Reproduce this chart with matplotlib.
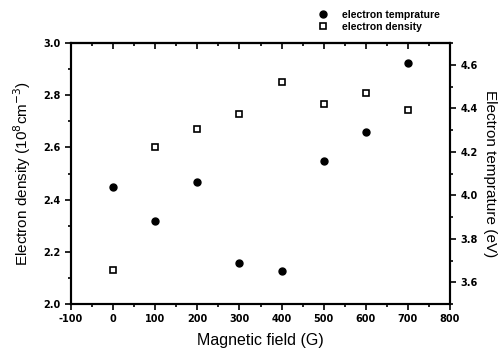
import numpy as np
import matplotlib
matplotlib.use('Agg')
import matplotlib.pyplot as plt
from matplotlib.ticker import MultipleLocator

plt.rcParams['font.family'] = ['Liberation Sans', 'DejaVu Sans']

## data
field = [0, 100, 200, 300, 400, 500, 600, 700]
density = [2.13, 2.60, 2.67, 2.73, 2.85, 2.765, 2.81, 2.745]
temperature = [4.04, 3.88, 4.06, 3.69, 3.65, 4.16, 4.29, 4.61]

fig = plt.figure(figsize=(4.99, 3.56), dpi=100)
ax = fig.add_axes([0.1423, 0.146, 0.7595, 0.733])
ax2 = ax.twinx()

h2, = ax.plot(field, density, 's', mfc='white', mec='black', mew=1.2, ms=4.5,
              label='electron density', zorder=3)
h1, = ax2.plot(field, temperature, 'o', color='black', ms=5,
               label='electron temprature', zorder=3)

ax.set_xlim(-100, 800)
ax.set_ylim(2.0, 3.0)
ax2.set_ylim(3.5, 4.7)

ax.xaxis.set_major_locator(MultipleLocator(100))
ax.xaxis.set_minor_locator(MultipleLocator(50))
ax.yaxis.set_major_locator(MultipleLocator(0.2))
ax.yaxis.set_minor_locator(MultipleLocator(0.1))
ax2.set_yticks([3.6, 3.8, 4.0, 4.2, 4.4, 4.6])
ax2.yaxis.set_minor_locator(MultipleLocator(0.1))

# top axis: ticks point inward, no labels
top = ax.secondary_xaxis('top')
top.xaxis.set_major_locator(MultipleLocator(100))
top.xaxis.set_minor_locator(MultipleLocator(50))
top.tick_params(which='both', direction='in', width=1.2, labeltop=False)
top.tick_params(which='major', length=4)
top.tick_params(which='minor', length=2.5)
top.spines['top'].set_linewidth(1.5)

for a in (ax, ax2):
    for s in a.spines.values():
        s.set_linewidth(1.5)

tick_font = dict(family='DejaVu Sans', weight='bold', size=7)
for a in (ax, ax2):
    a.tick_params(which='both', direction='out', width=1.2)
    a.tick_params(which='major', length=4)
    a.tick_params(which='minor', length=2.5)
ax.set_xticks(ax.get_xticks())
ax.set_xticklabels(['%d' % v for v in ax.get_xticks()], fontdict=tick_font)
ax.set_yticks(ax.get_yticks())
ax.set_yticklabels(['%.1f' % v for v in ax.get_yticks()], fontdict=tick_font)
ax2.set_yticklabels(['%.1f' % v for v in ax2.get_yticks()], fontdict=tick_font)
ax.set_xlim(-100, 800)
ax.set_ylim(2.0, 3.0)
ax2.set_ylim(3.5, 4.7)

ax.set_xlabel('Magnetic field (G)', fontsize=11.5, labelpad=6)
ax.set_ylabel('Electron density (10$^{8}$cm$^{-3}$)', fontsize=11, labelpad=7)
ax2.set_ylabel('Electron temprature (eV)', fontsize=11, rotation=-90, labelpad=14)

fig.legend(handles=[h1, h2], loc='upper left', bbox_to_anchor=(0.618, 0.998),
           frameon=False, prop=dict(size=7.5, weight='bold'),
           handletextpad=1.3, labelspacing=0.15, handlelength=1.0)

fig.savefig('out.png', dpi=100)
